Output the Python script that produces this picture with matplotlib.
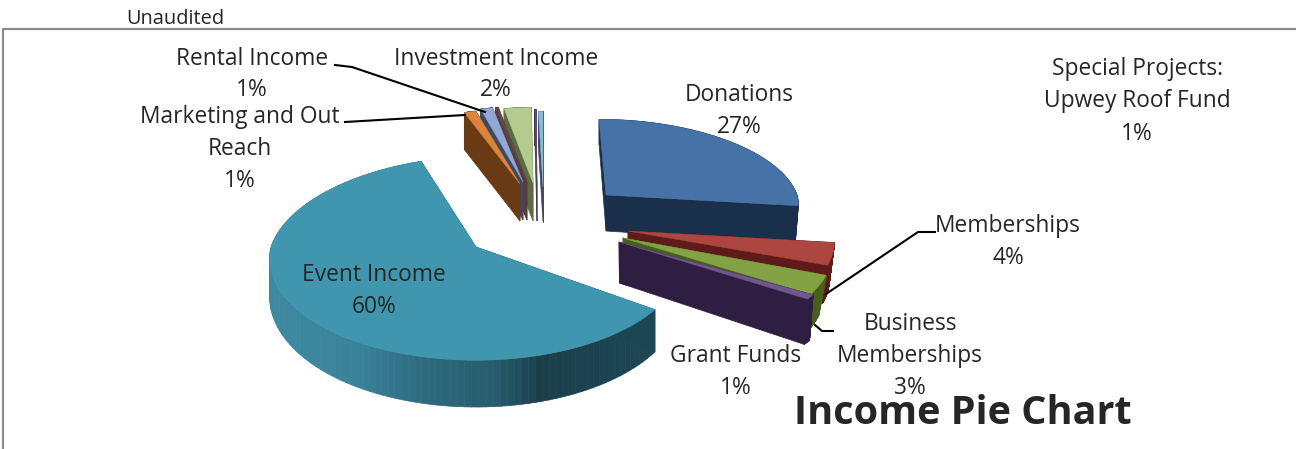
import numpy as np
import matplotlib
matplotlib.use("Agg")
import matplotlib.pyplot as plt
from matplotlib.collections import PolyCollection
from matplotlib.colors import LinearSegmentedColormap, to_rgb
from matplotlib.patches import Polygon

# slices, clockwise from 12 o'clock
categories = ["Donations", "Memberships", "Business Memberships", "Grant Funds", "Event Income",
              "Marketing and Out Reach", "Rental Income", "Other A", "Investment Income", "Other B",
              "Special Projects: Upwey Roof Fund"]
values = [27.0, 3.9, 3.1, 0.8, 59.5, 1.1, 1.2, 0.3, 2.2, 0.2, 0.7]
top_colors = ["#4672a8", "#ab4641", "#83a243", "#71558f", "#4096af", "#db843d", "#90a8d4", "#5f4a4a",
              "#b4cb8e", "#5b4f75", "#86bcd8"]
wall_colors = ["#1a2f4b", "#5e1b19", "#46601c", "#2e1f42", "#1f5564", "#693a14", "#3b4a6b", "#5a3b3a",
               "#5c6b42", "#453a58", "#4b4660"]

# where each exploded slice ends up in the picture:
# cx, cy, rx, ry, wall, wall growth, wall convergence (k, vx), shear of the far side
layout = {
    "Donations": (606, 195, 191, 85, 36, 0.3, 0.016, 606, 7),
    "Memberships": (628, 231, 205, 91, 36, 0.15, 0.025, 640, 0),
    "Business Memberships": (623, 238, 209, 99, 38, 0.15, 0.04, 640, 0),
    "Grant Funds": (619, 242, 216, 93, 41, 0.18, 0.02, 640, 0),
    "Event Income": (476, 247, 205, 102, 36, 0.3, 0, 0, -9.5),
    "Marketing and Out Reach": (520, 184, 194, 85, 37, 0.0, 0, 0, -5),
    "Rental Income": (523, 182, 183, 85, 38, 0.0, 0, 0, -4),
    "Other A": (527, 182, 190, 85, 38, 0.0, 0, 0, -4),
    "Investment Income": (533, 183, 224, 85, 38, 0.0, 0, 0, -9.5),
    "Other B": (537, 185, 120, 85, 36, 0.0, 0, 0, -4),
    "Special Projects: Upwey Roof Fund": (543, 187, 120, 85, 35, 0.0, 0, 0, 0),
}
draw_order = ["Other B", "Special Projects: Upwey Roof Fund", "Investment Income", "Other A", "Rental Income",
              "Marketing and Out Reach", "Donations", "Memberships", "Business Memberships", "Grant Funds",
              "Event Income"]

event_wall = LinearSegmentedColormap.from_list(
    "event_wall", [(0, "#3d8aa0"), (0.24, "#39829a"), (0.41, "#2e6a7e"), (0.6, "#265c6c"),
                   (0.71, "#1a3f4b"), (1, "#1d4753")])


def project(theta, cx, cy, rx, ry, shear):
    # flat ellipse that swells toward the viewer
    u, v = np.sin(theta), -np.cos(theta)
    x = cx + rx * u * (1 + 0.12 * v) + shear * np.minimum(v, 0)
    return x, cy + ry * v * (1 + 0.11 * v), v


fig = plt.figure(figsize=(12.96, 4.49), dpi=100)
ax = fig.add_axes([0, 0, 1, 1])
ax.set_xlim(0, 1296)
ax.set_ylim(449, 0)
ax.axis("off")

fractions = np.array(values) / sum(values)
stops = np.concatenate([[0], np.cumsum(fractions)]) * 2 * np.pi
angles = {c: (stops[i], stops[i + 1]) for i, c in enumerate(categories)}
top_c = dict(zip(categories, top_colors))
wall_c = dict(zip(categories, wall_colors))

for name in draw_order:
    cx, cy, rx, ry, wall, grow, k, vx, shear = layout[name]
    t = np.linspace(angles[name][0], angles[name][1], 120)
    x, y, v = project(t, cx, cy, rx, ry, shear)
    d = wall * (1 + grow * v)
    bx = x + k * (vx - x)
    # radial walls
    for i in [0, -1]:
        ax.add_patch(Polygon([(cx, cy), (x[i], y[i]), (bx[i], y[i] + d[i]), (cx + k * (vx - cx), cy + wall)],
                             fc=wall_c[name], ec=wall_c[name], lw=0.5))
    # outer wall, in thin strips so the big slice can be shaded
    quads = [[(x[i], y[i]), (x[i + 1], y[i + 1]), (bx[i + 1], y[i + 1] + d[i + 1]), (bx[i], y[i] + d[i])]
             for i in range(len(t) - 1)]
    if name == "Event Income":
        cols = [event_wall((q[0][0] - 268) / (656 - 268)) for q in quads]
    else:
        cols = [to_rgb(wall_c[name])] * len(quads)
    ax.add_collection(PolyCollection(quads, facecolors=cols, edgecolors=cols, linewidths=0.5))
    # top face
    ax.add_patch(Polygon(np.column_stack([np.r_[cx, x], np.r_[cy, y]]), fc=top_c[name], ec=top_c[name], lw=0.3))

# frame
ax.plot([3, 3, 1296], [449, 29, 29], color="#8c8c8c", lw=1.6)

# leader lines
ax.plot([826, 918, 935], [294, 232, 232], color="black", lw=1.5)
ax.plot([815, 822, 833], [325, 331, 331], color="black", lw=1.5)
ax.plot([485, 352, 335], [112, 67, 65], color="black", lw=1.5)
ax.plot([465, 345], [115, 122], color="black", lw=1.5)

font = "Open Sans"
label_color = "#262626"
labels = [
    (496, 59, "Investment Income"), (496, 90, "2%"),
    (252, 59, "Rental Income"), (252, 90, "1%"),
    (240, 117, "Marketing and Out"), (240, 149, "Reach"), (240, 181, "1%"),
    (739, 95, "Donations"), (739, 127, "27%"),
    (1137, 69, "Special Projects:"), (1137, 101, "Upwey Roof Fund"), (1137, 134, "1%"),
    (1008, 226, "Memberships"), (1008, 258, "4%"),
    (910, 324, "Business"), (910, 356, "Memberships"), (910, 388, "3%"),
    (736, 356, "Grant Funds"), (736, 388, "1%"),
    (374, 275, "Event Income"), (374, 307, "60%"),
]
for lx, ly, s in labels:
    ax.text(lx, ly, s, ha="center", va="center", fontsize=16.4, family=font, color=label_color)

ax.text(175, 19, "Unaudited", ha="center", va="center", fontsize=14.4, family=font, color=label_color)
ax.text(963, 414, "Income Pie Chart", ha="center", va="center", fontsize=28.5, family=font,
        weight="bold", color="#262626")

fig.savefig("out.png", dpi=100)
